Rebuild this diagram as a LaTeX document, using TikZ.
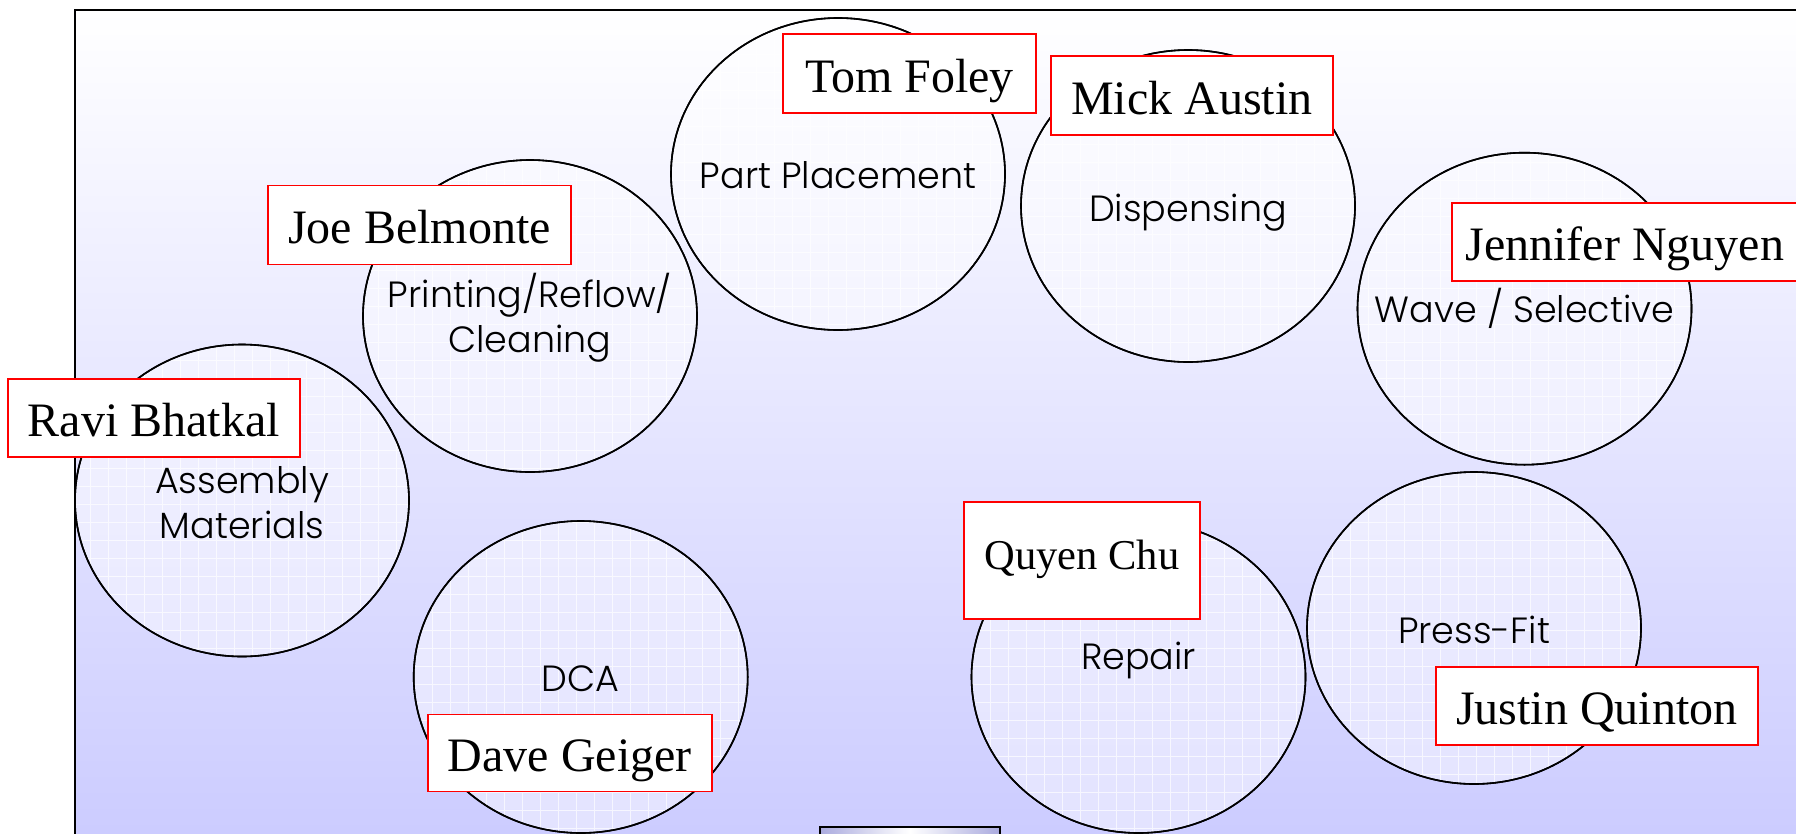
\documentclass[tikz,border=0pt]{standalone}
\usepackage{fontspec}
\setmainfont{Liberation Serif}
\newfontfamily\labfont{Poppins}[UprightFont={* Light}]
\usetikzlibrary{shapes.geometric}
\definecolor{lav}{RGB}{204,204,255}
\definecolor{lavdark}{RGB}{170,170,222}
\begin{document}
\begin{tikzpicture}[x=1pt,y=-1pt,
  station/.style={ellipse, draw=black, line width=1.6pt, fill=white, fill opacity=0.45,
    minimum width=334pt, minimum height=312pt, inner sep=0pt},
  person/.style={draw=red, line width=1.8pt, fill=white, anchor=north west, inner sep=0pt,
    font=\fontsize{48}{52}\selectfont, text height=38pt, text depth=0pt},
  lab/.style={font=\labfont\fontsize{36.5}{45}\selectfont, align=center, text=black},
  lab1/.style={lab, text height=27pt, text depth=9pt}]
\useasboundingbox (0,0) rectangle (1796,833);
\fill[white] (0,0) rectangle (1796,833);
\shade[top color=white, bottom color=lav] (75,10) rectangle (1796,833);
\draw[line width=2pt] (1800,10) -- (75,10) -- (75,840);
% stations
\foreach \n/\x/\y in {asm/242/500.5, prt/530/316, plc/838/174, dsp/1188/206,
                      wav/1524.5/308.7, prs/1474/628, rep/1138.5/677, dca/580.7/677}{
  \node[station] (\n) at (\x,\y) {};
  \begin{scope}
    \clip (\x,\y) ellipse [x radius=166pt, y radius=155pt];
    \draw[white, line width=0.8pt, opacity=0.7, step=18pt] (\x-180,\y-180) grid (\x+180,\y+180);
  \end{scope}
  \draw[line width=1.6pt] (\x,\y) ellipse [x radius=167pt, y radius=156pt];
}
% station labels
\node[lab1] (lplc) at (838,179) {Part Placement};
\node[lab1] (ldsp) at (1188,212) {Dispensing};
\node[lab] (lprt) at (530,318) {Printing/Reflow/\\Cleaning};
\node[lab1] (lwav) at (1524.5,313) {Wave / Selective};
\node[lab] (lasm) at (242,503) {Assembly\\Materials};
\node[lab1] (ldca) at (580.7,682) {DCA};
\node[lab1] (lrep) at (1138.5,660) {Repair};
\node[lab1] (lprs) at (1474,634) {Press-Fit};
% people
\node[person, minimum width=253pt, minimum height=79pt] (tom) at (782,33) {Tom Foley};
\node[person, minimum width=282pt, minimum height=79pt] (mick) at (1050,55) {Mick Austin};
\node[person, minimum width=303pt, minimum height=79pt] (joe) at (267,184.5) {Joe Belmonte};
\node[person, minimum width=346pt, minimum height=78pt] (jen) at (1451,202) {Jennifer Nguyen};
\node[person, minimum width=292pt, minimum height=78pt] (ravi) at (7,378) {Ravi Bhatkal};
\node[person, minimum width=236pt, minimum height=117pt, font=\fontsize{42.5}{46}\selectfont,
      text height=38pt, text depth=19pt] (quyen) at (963,501) {Quyen Chu};
\node[person, minimum width=284pt, minimum height=77pt] (dave) at (427,713.5) {Dave Geiger};
\node[person, minimum width=322pt, minimum height=78pt] (justin) at (1435,666) {Justin Quinton};
% bottom box
\node[draw=black, line width=1.6pt, left color=lavdark, right color=lavdark, middle color=white,
      minimum width=180pt, minimum height=40pt, anchor=north west, inner sep=0pt] (bot) at (819,826) {};
\end{tikzpicture}
\end{document}
